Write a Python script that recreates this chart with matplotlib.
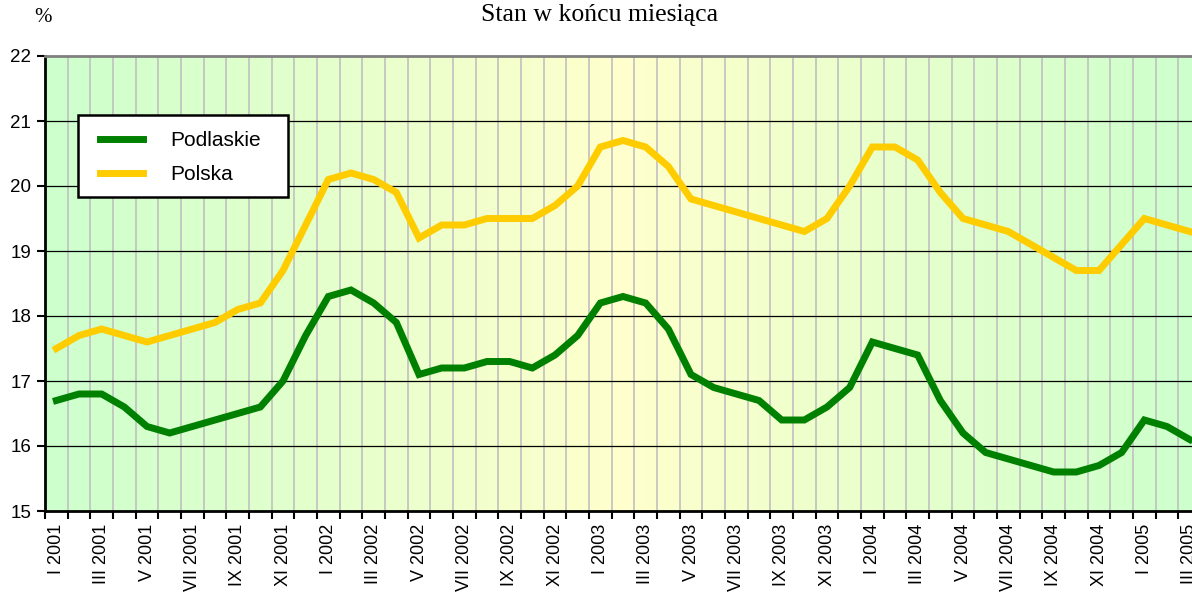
import matplotlib
matplotlib.use("Agg")
import matplotlib.pyplot as plt
import numpy as np
from matplotlib.colors import LinearSegmentedColormap
from matplotlib.patches import Rectangle

# months I 2001 .. III 2005
roman = ["I", "II", "III", "IV", "V", "VI", "VII", "VIII", "IX", "X", "XI", "XII"]
months = [f"{roman[m]} {y}" for y in range(2001, 2006) for m in range(12)][:51]

podlaskie = [16.7, 16.8, 16.8, 16.6, 16.3, 16.2, 16.3, 16.4, 16.5, 16.6, 17.0, 17.7,
             18.3, 18.4, 18.2, 17.9, 17.1, 17.2, 17.2, 17.3, 17.3, 17.2, 17.4, 17.7,
             18.2, 18.3, 18.2, 17.8, 17.1, 16.9, 16.8, 16.7, 16.4, 16.4, 16.6, 16.9,
             17.6, 17.5, 17.4, 16.7, 16.2, 15.9, 15.8, 15.7, 15.6, 15.6, 15.7, 15.9,
             16.4, 16.3, 16.1]
polska = [17.5, 17.7, 17.8, 17.7, 17.6, 17.7, 17.8, 17.9, 18.1, 18.2, 18.7, 19.4,
          20.1, 20.2, 20.1, 19.9, 19.2, 19.4, 19.4, 19.5, 19.5, 19.5, 19.7, 20.0,
          20.6, 20.7, 20.6, 20.3, 19.8, 19.7, 19.6, 19.5, 19.4, 19.3, 19.5, 20.0,
          20.6, 20.6, 20.4, 19.9, 19.5, 19.4, 19.3, 19.1, 18.9, 18.7, 18.7, 19.1,
          19.5, 19.4, 19.3]

fig = plt.figure(figsize=(11.92, 5.92), dpi=100)
ax = fig.add_axes([45 / 1192, 81 / 592, 1156 / 1192, 455 / 592])

n = len(months)
x = np.arange(n)
ax.set_xlim(-0.5, n - 0.5)
ax.set_ylim(15, 22)

# green - yellow - green background
cmap = LinearSegmentedColormap.from_list("bg", ["#ccffcc", "#ffffcc", "#ccffcc"])
grad = np.linspace(0, 1, 256).reshape(1, -1)
ax.imshow(grad, cmap=cmap, aspect="auto", extent=(-0.5, n - 0.5, 15, 22), zorder=0)

# grid
for b in np.arange(-0.5, n, 1.0):
    ax.axvline(b, color="#c0c0c0", lw=1.2, zorder=1)
for v in range(16, 22):
    ax.axhline(v, color="black", lw=0.9, zorder=1)

ax.plot(x, podlaskie, color="#008000", lw=5, label="Podlaskie", zorder=3,
        solid_joinstyle="miter")
ax.plot(x, polska, color="#ffcc00", lw=5, label="Polska", zorder=3,
        solid_joinstyle="miter")

ax.set_yticks(range(15, 23))
ax.set_yticklabels([str(v) for v in range(15, 23)], fontsize=13.5, family="Liberation Sans")
ax.set_xticks(np.arange(-0.5, n, 1.0))
ax.set_xticklabels([])
ax.set_xticks(x[::2], minor=True)
ax.set_xticklabels(months[::2], minor=True, rotation=90, fontsize=13,
                   family="Liberation Sans")
ax.tick_params(axis="x", which="major", direction="out", length=6, width=1.5)
ax.tick_params(axis="x", which="minor", length=0, pad=9)
ax.tick_params(axis="y", direction="out", length=6, width=1.5, pad=4)

for s in ["left", "bottom"]:
    ax.spines[s].set_linewidth(2)
ax.spines["top"].set_color("#808080")
ax.spines["top"].set_linewidth(2)
ax.spines["right"].set_visible(False)

# legend box (white frame drawn separately so padding matches)
ax.add_patch(Rectangle((33 / 1156, 314 / 455), 210 / 1156, 82 / 455, transform=ax.transAxes,
                       facecolor="white", edgecolor="black", lw=1.8, zorder=4))
leg = ax.legend(loc="upper left", bbox_to_anchor=(55 / 1156, 380 / 455), frameon=False,
                handlelength=2.07, handletextpad=1.3, borderpad=0, borderaxespad=0,
                labelspacing=0.74, prop={"family": "Liberation Sans", "size": 15})
leg.set_zorder(5)

fig.text(600 / 1192, 1 - 15 / 592, "Stan w końcu miesiąca", ha="center", va="center",
         fontsize=18.5, family="Liberation Serif")
fig.text(43 / 1192, 1 - 18 / 592, "%", ha="center", va="center", fontsize=15,
         family="Liberation Serif")

fig.savefig("out.png", dpi=100)
